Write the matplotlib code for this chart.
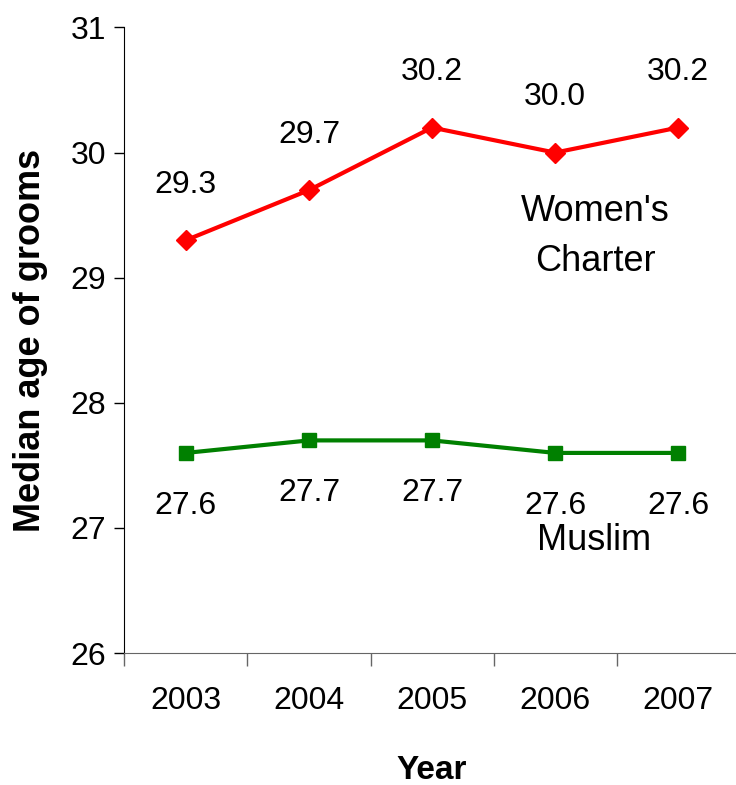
import matplotlib.pyplot as plt
import numpy as np

years = ['2003', '2004', '2005', '2006', '2007']
womens_charter = [29.3, 29.7, 30.2, 30.0, 30.2]
muslim = [27.6, 27.7, 27.7, 27.6, 27.6]

plt.rcParams['font.family'] = ['Liberation Sans', 'DejaVu Sans']

fig = plt.figure(figsize=(7.36, 7.85), dpi=100)
ax = fig.add_axes([0.169, 0.168, 0.836, 0.797])

x = np.arange(len(years))
ax.plot(x, womens_charter, color='#FF0000', lw=3, marker='D', ms=10, clip_on=False)
ax.plot(x, muslim, color='#008000', lw=3, marker='s', ms=9.5, clip_on=False)

# data labels
for i, v in enumerate(womens_charter):
    ax.annotate(f'{v:.1f}', (i, v), xytext=(0, 40), textcoords='offset points',
                ha='center', va='center', fontsize=23)
for i, v in enumerate(muslim):
    ax.annotate(f'{v:.1f}', (i, v), xytext=(0, -38), textcoords='offset points',
                ha='center', va='center', fontsize=23)

ax.text(3.33, 29.33, "Women's\nCharter", ha='center', va='center', fontsize=26,
        linespacing=1.55)
ax.text(3.32, 26.9, 'Muslim', ha='center', va='center', fontsize=26)

ax.set_xlim(-0.5, 4.5)
ax.set_ylim(26, 31)
ax.set_yticks([26, 27, 28, 29, 30, 31])
ax.set_xticks(x)
ax.set_xticklabels(years)
ax.set_xticks(np.arange(-0.5, 4.6, 1), minor=True)

ax.tick_params(axis='y', direction='out', length=7, width=1, labelsize=23, pad=6)
ax.tick_params(axis='x', which='major', length=0, labelsize=23, pad=24)
ax.tick_params(axis='x', which='minor', direction='out', length=9, width=1, color='#666666')

ax.spines['top'].set_visible(False)
ax.spines['right'].set_visible(False)
ax.spines['bottom'].set_color('#666666')

ax.set_xlabel('Year', fontsize=24, fontweight='bold', labelpad=28)
ax.set_ylabel('Median age of grooms', fontsize=26, fontweight='bold', labelpad=16)

fig.savefig('out.png', dpi=100)
